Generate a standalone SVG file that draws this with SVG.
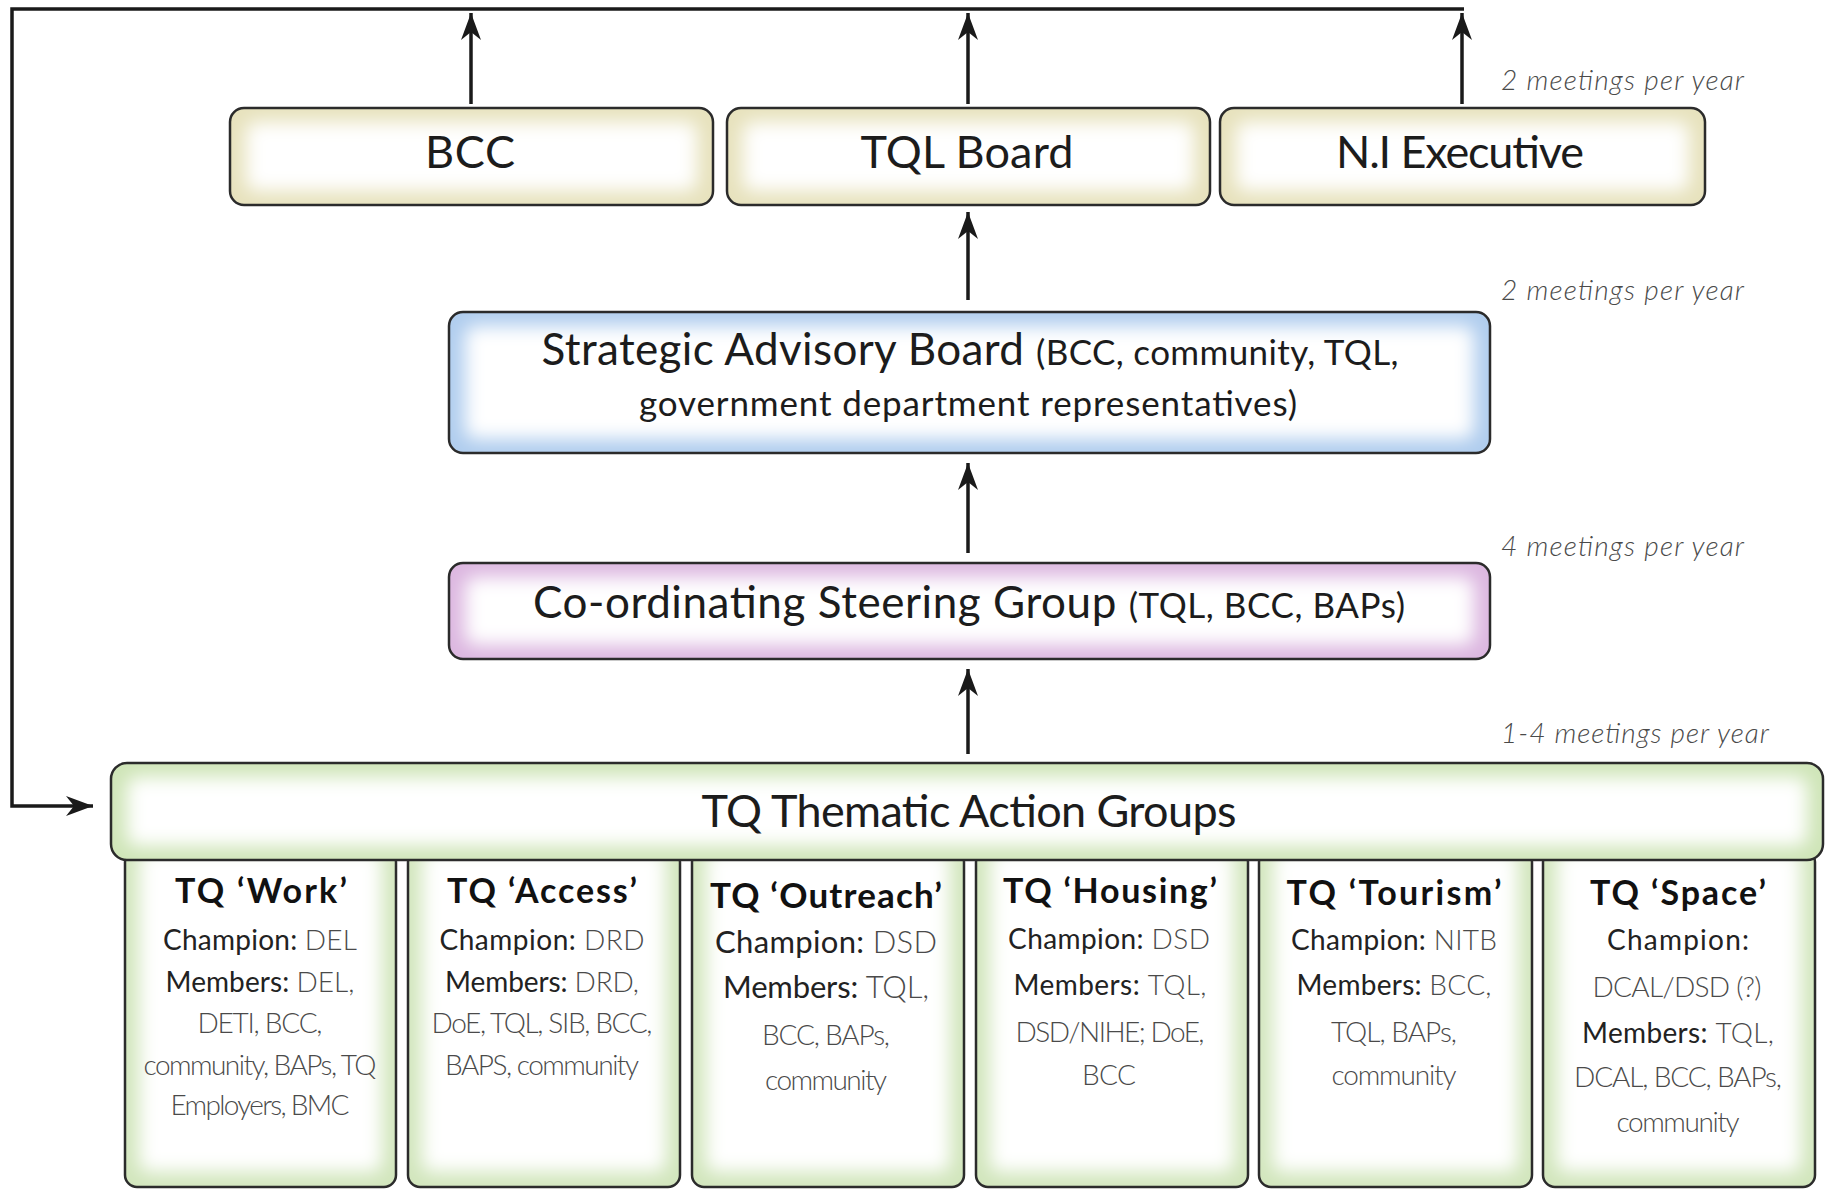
<svg xmlns="http://www.w3.org/2000/svg" width="1825" height="1190" viewBox="0 0 1825 1190">
<style>
  .frame { fill: none; stroke: #2b2b2b; stroke-width: 2.5; }
  .glow { fill: #ffffff; filter: url(#blur); }
  .main { font-family: Lato, "Open Sans", sans-serif; fill: #1c1c1c; text-anchor: middle; }
  .sub { font-family: Lato, "Open Sans", sans-serif; fill: #1c1c1c; text-anchor: middle; font-size: 35px; }
  .meet { font-family: Lato, "Open Sans", sans-serif; font-style: italic; font-weight: 300; fill: #4a4a4a; font-size: 28px; }
  .ttl { font-family: Lato, "Open Sans", sans-serif; font-weight: bold; fill: #111; text-anchor: middle; font-size: 34px; }
  .ln { font-family: Lato, "Open Sans", sans-serif; fill: #222; text-anchor: middle; font-size: 28px; }
  .v { fill: #4a4a4a; font-weight: 300; }
  .conn { fill: none; stroke: #1a1a1a; stroke-width: 3.5; }
</style>
<defs>
  <filter id="blur" filterUnits="userSpaceOnUse" x="0" y="0" width="1825" height="1190">
    <feGaussianBlur stdDeviation="9"/>
  </filter>
  <marker id="arr" markerUnits="userSpaceOnUse" viewBox="-28 -12 30 24" refX="0" refY="0" markerWidth="30" markerHeight="24" orient="auto">
    <path d="M0,0 L-27,-10 L-19,0 L-27,10 Z" fill="#1a1a1a"/>
  </marker>
</defs>
<rect width="1825" height="1190" fill="#ffffff"/>

<g id="columns">
  <g id="col-work">
    <rect x="125" y="850" width="271" height="337" rx="12" fill="#d2e6bd"/>
    <rect x="139" y="850" width="243" height="322" rx="10" class="glow"/>
    <rect x="125" y="850" width="271" height="337" rx="12" class="frame"/>
    <text class="ttl" x="261" y="903" textLength="172">TQ ‘Work’</text>
    <text class="ln" x="260" y="950" textLength="194">Champion: <tspan class="v">DEL</tspan></text>
    <text class="ln" x="260" y="992" textLength="189">Members: <tspan class="v">DEL,</tspan></text>
    <text class="ln v" x="260" y="1033" textLength="125">DETI, BCC,</text>
    <text class="ln v" x="260" y="1075" textLength="233">community, BAPs, TQ</text>
    <text class="ln v" x="260" y="1115" textLength="179">Employers, BMC</text>
  </g>
  <g id="col-access">
    <rect x="408" y="850" width="272" height="337" rx="12" fill="#d2e6bd"/>
    <rect x="422" y="850" width="244" height="322" rx="10" class="glow"/>
    <rect x="408" y="850" width="272" height="337" rx="12" class="frame"/>
    <text class="ttl" x="542" y="903" textLength="190">TQ ‘Access’</text>
    <text class="ln" x="542" y="950" textLength="205">Champion: <tspan class="v">DRD</tspan></text>
    <text class="ln" x="542" y="992" textLength="194">Members: <tspan class="v">DRD,</tspan></text>
    <text class="ln v" x="542" y="1033" textLength="221">DoE, TQL, SIB, BCC,</text>
    <text class="ln v" x="542" y="1075" textLength="194">BAPS, community</text>
  </g>
  <g id="col-outreach">
    <rect x="692" y="850" width="272" height="337" rx="12" fill="#d2e6bd"/>
    <rect x="706" y="850" width="244" height="322" rx="10" class="glow"/>
    <rect x="692" y="850" width="272" height="337" rx="12" class="frame"/>
    <text class="ttl" x="826" y="908" textLength="232" style="font-size:35px">TQ ‘Outreach’</text>
    <text class="ln" x="826" y="953" textLength="222" style="font-size:31px">Champion:  <tspan class="v">DSD</tspan></text>
    <text class="ln" x="826" y="998" textLength="206" style="font-size:31px">Members: <tspan class="v">TQL,</tspan></text>
    <text class="ln v" x="826" y="1045" textLength="128">BCC, BAPs,</text>
    <text class="ln v" x="826" y="1090" textLength="122">community</text>
  </g>
  <g id="col-housing">
    <rect x="976" y="850" width="272" height="337" rx="12" fill="#d2e6bd"/>
    <rect x="990" y="850" width="244" height="322" rx="10" class="glow"/>
    <rect x="976" y="850" width="272" height="337" rx="12" class="frame"/>
    <text class="ttl" x="1110" y="903" textLength="214">TQ ‘Housing’</text>
    <text class="ln" x="1109" y="949" textLength="202">Champion: <tspan class="v">DSD</tspan></text>
    <text class="ln" x="1110" y="995" textLength="193">Members: <tspan class="v">TQL,</tspan></text>
    <text class="ln v" x="1110" y="1042" textLength="189">DSD/NIHE; DoE,</text>
    <text class="ln v" x="1109" y="1085" textLength="54">BCC</text>
  </g>
  <g id="col-tourism">
    <rect x="1259" y="850" width="273" height="337" rx="12" fill="#d2e6bd"/>
    <rect x="1273" y="850" width="245" height="322" rx="10" class="glow"/>
    <rect x="1259" y="850" width="273" height="337" rx="12" class="frame"/>
    <text class="ttl" x="1394" y="905" textLength="215">TQ ‘Tourism’</text>
    <text class="ln" x="1394" y="950" textLength="206">Champion: <tspan class="v">NITB</tspan></text>
    <text class="ln" x="1394" y="995" textLength="195">Members: <tspan class="v">BCC,</tspan></text>
    <text class="ln v" x="1394" y="1042" textLength="126">TQL, BAPs,</text>
    <text class="ln v" x="1394" y="1085" textLength="125">community</text>
  </g>
  <g id="col-space">
    <rect x="1543" y="850" width="272" height="337" rx="12" fill="#d2e6bd"/>
    <rect x="1557" y="850" width="244" height="322" rx="10" class="glow"/>
    <rect x="1543" y="850" width="272" height="337" rx="12" class="frame"/>
    <text class="ttl" x="1678" y="905" textLength="176">TQ ‘Space’</text>
    <text class="ln" x="1678" y="950" textLength="142">Champion:</text>
    <text class="ln v" x="1677" y="997" textLength="169">DCAL/DSD (?)</text>
    <text class="ln" x="1678" y="1043" textLength="192">Members: <tspan class="v">TQL,</tspan></text>
    <text class="ln v" x="1678" y="1087" textLength="208">DCAL, BCC, BAPs,</text>
    <text class="ln v" x="1678" y="1132" textLength="123">community</text>
  </g>
</g>

<g id="tag">
  <rect x="111" y="763" width="1712" height="97" rx="16" fill="#cfe5b8"/>
  <rect x="127" y="777" width="1680" height="69" rx="10" class="glow"/>
  <rect x="111" y="763" width="1712" height="97" rx="16" class="frame"/>
  <text class="main" x="969" y="827" font-size="45" textLength="535">TQ Thematic Action Groups</text>
</g>

<g id="csg">
  <rect x="449" y="563" width="1041" height="96" rx="14" fill="#dcb7e0"/>
  <rect x="465" y="577" width="1009" height="68" rx="10" class="glow"/>
  <rect x="449" y="563" width="1041" height="96" rx="14" class="frame"/>
  <text class="main" x="969" y="618" textLength="872"><tspan font-size="44">Co-ordinating Steering Group </tspan><tspan font-size="35">(TQL, BCC, BAPs)</tspan></text>
</g>

<g id="sab">
  <rect x="449" y="312" width="1041" height="141" rx="14" fill="#b0cdee"/>
  <rect x="465" y="326" width="1009" height="113" rx="10" class="glow"/>
  <rect x="449" y="312" width="1041" height="141" rx="14" class="frame"/>
  <text class="main" x="970" y="365" textLength="857"><tspan font-size="44">Strategic Advisory Board </tspan><tspan font-size="35">(BCC, community, TQL,</tspan></text>
  <text class="sub" x="968" y="416" textLength="658">government department representatives)</text>
</g>

<g id="bcc">
  <rect x="230" y="108" width="483" height="97" rx="14" fill="#e7e2bd"/>
  <rect x="246" y="122" width="451" height="69" rx="10" class="glow"/>
  <rect x="230" y="108" width="483" height="97" rx="14" class="frame"/>
  <text class="main" x="470" y="168" font-size="45" textLength="90">BCC</text>
</g>

<g id="tql-board">
  <rect x="727" y="108" width="483" height="97" rx="14" fill="#e7e2bd"/>
  <rect x="743" y="122" width="451" height="69" rx="10" class="glow"/>
  <rect x="727" y="108" width="483" height="97" rx="14" class="frame"/>
  <text class="main" x="967" y="168" font-size="45" textLength="213">TQL Board</text>
</g>

<g id="ni-executive">
  <rect x="1220" y="108" width="485" height="97" rx="14" fill="#e7e2bd"/>
  <rect x="1236" y="122" width="453" height="69" rx="10" class="glow"/>
  <rect x="1220" y="108" width="485" height="97" rx="14" class="frame"/>
  <text class="main" x="1460" y="168" font-size="45" textLength="248">N.I Executive</text>
</g>

<g id="labels">
  <text class="meet" x="1501" y="90" textLength="243">2 meetings per year</text>
  <text class="meet" x="1501" y="300" textLength="243">2 meetings per year</text>
  <text class="meet" x="1501" y="556" textLength="243">4 meetings per year</text>
  <text class="meet" x="1501" y="743" textLength="268">1-4 meetings per year</text>
</g>

<g id="connectors">
  <path class="conn" d="M1464,9 H12 V806 H93" marker-end="url(#arr)"/>
  <line class="conn" x1="471" y1="104" x2="471" y2="13" marker-end="url(#arr)"/>
  <line class="conn" x1="968" y1="104" x2="968" y2="13" marker-end="url(#arr)"/>
  <line class="conn" x1="1462" y1="104" x2="1462" y2="13" marker-end="url(#arr)"/>
  <line class="conn" x1="968" y1="300" x2="968" y2="212" marker-end="url(#arr)"/>
  <line class="conn" x1="968" y1="553" x2="968" y2="463" marker-end="url(#arr)"/>
  <line class="conn" x1="968" y1="754" x2="968" y2="669" marker-end="url(#arr)"/>
</g>
</svg>
